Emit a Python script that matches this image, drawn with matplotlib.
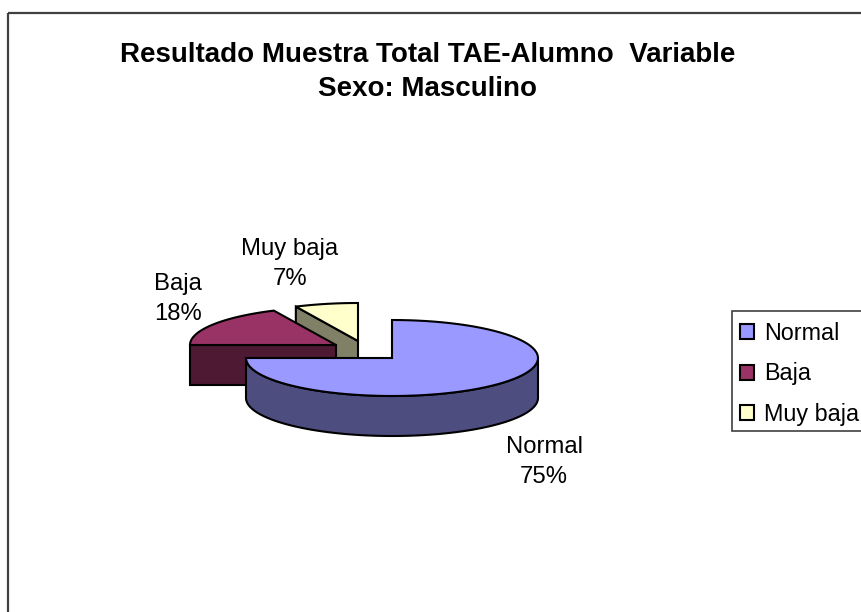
#!/usr/bin/env python3
"""Exploded pseudo-3D pie: Resultado Muestra Total TAE-Alumno, sexo masculino."""
import matplotlib
matplotlib.use("Agg")
import matplotlib.pyplot as plt
from matplotlib.patches import Patch, Polygon, Rectangle
import numpy as np

plt.rcParams["font.family"] = ["Liberation Sans", "DejaVu Sans"]

# data
categories = ["Normal", "Baja", "Muy baja"]
values = [75, 18, 7]
title = "Resultado Muestra Total TAE-Alumno  Variable\nSexo: Masculino"

# colours
top_colors = ["#9999FF", "#993366", "#FFFFCC"]
side_colors = ["#4D4D80", "#4D1933", "#808066"]
C_LINE = "#000000"
C_FRAME = "#404040"

# geometry of the pie, in pixels (y down)
RX, RY, DEPTH = 146, 38, 40
centers = [(392, 358), (336, 345), (358, 341)]
label_pos = [(544, 462), (178, 299), (290, 264)]
LW = 1.5

fig = plt.figure(figsize=(8.61, 6.12), dpi=100, facecolor="white")
ax = fig.add_axes([0, 0, 1, 1])
ax.set_xlim(0, 861)
ax.set_ylim(612, 0)
ax.axis("off")

# outer chart frame, cut off by the image on the right and at the bottom
ax.add_patch(Rectangle((8, 13), 900, 700, fill=False, edgecolor=C_FRAME, lw=1.6))

ax.text(428, 71.5, title, ha="center", va="center", fontsize=20,
        fontweight="bold", linespacing=1.4)


def arc(cx, cy, a0, a1, n=80):
    # angles in degrees, clockwise from 12 o'clock
    t = np.radians(np.linspace(a0, a1, n))
    return np.column_stack([cx + RX * np.sin(t), cy - RY * np.cos(t)])


def poly(pts, color, z):
    ax.add_patch(Polygon(pts, closed=True, facecolor=color, edgecolor=C_LINE,
                         lw=LW, joinstyle="miter", zorder=z))


# slice angles come straight from the values
edges = np.concatenate([[0], np.cumsum(values)]) * 360.0 / sum(values)
down = np.array([0, DEPTH])

# back slice first: Muy baja, then Baja, then Normal on top
for i, z in ((2, 2), (1, 4), (0, 6)):
    cx, cy = centers[i]
    a0, a1 = edges[i], edges[i + 1]
    apex = np.array([cx, cy])
    rim = arc(cx, cy, a0, a1)
    # cut face on the side turned to the viewer
    if i == 0:
        # outer wall, only the front half of the rim shows
        front = arc(cx, cy, 90, 270)
        poly(np.vstack([front, (front + down)[::-1]]), side_colors[i], z)
    else:
        p = rim[0]
        poly(np.vstack([p, apex, apex + down, p + down]), side_colors[i], z)
    poly(np.vstack([apex, rim]), top_colors[i], z + 1)

# labels
for i, (x, y) in enumerate(label_pos):
    ax.text(x, y, f"{categories[i]}\n{values[i]}%", ha="center", va="center",
            fontsize=17.2, linespacing=1.52, zorder=10)

# legend box runs off the right edge like in the original
ax.add_patch(Rectangle((732, 311), 200, 120, facecolor="white",
                       edgecolor=C_FRAME, lw=1.2))
handles = [Patch(facecolor=c, edgecolor=C_LINE, lw=LW, label=n)
           for c, n in zip(top_colors, categories)]
ax.legend(handles=handles, loc="upper left", bbox_to_anchor=(728, 310),
          bbox_transform=ax.transData, borderaxespad=0, fontsize=16.8,
          frameon=False, handlelength=0.6, handleheight=0.6,
          handletextpad=0.43, labelspacing=0.757, borderpad=0.5)

fig.savefig("out.png", dpi=100, facecolor="white")
plt.close(fig)
